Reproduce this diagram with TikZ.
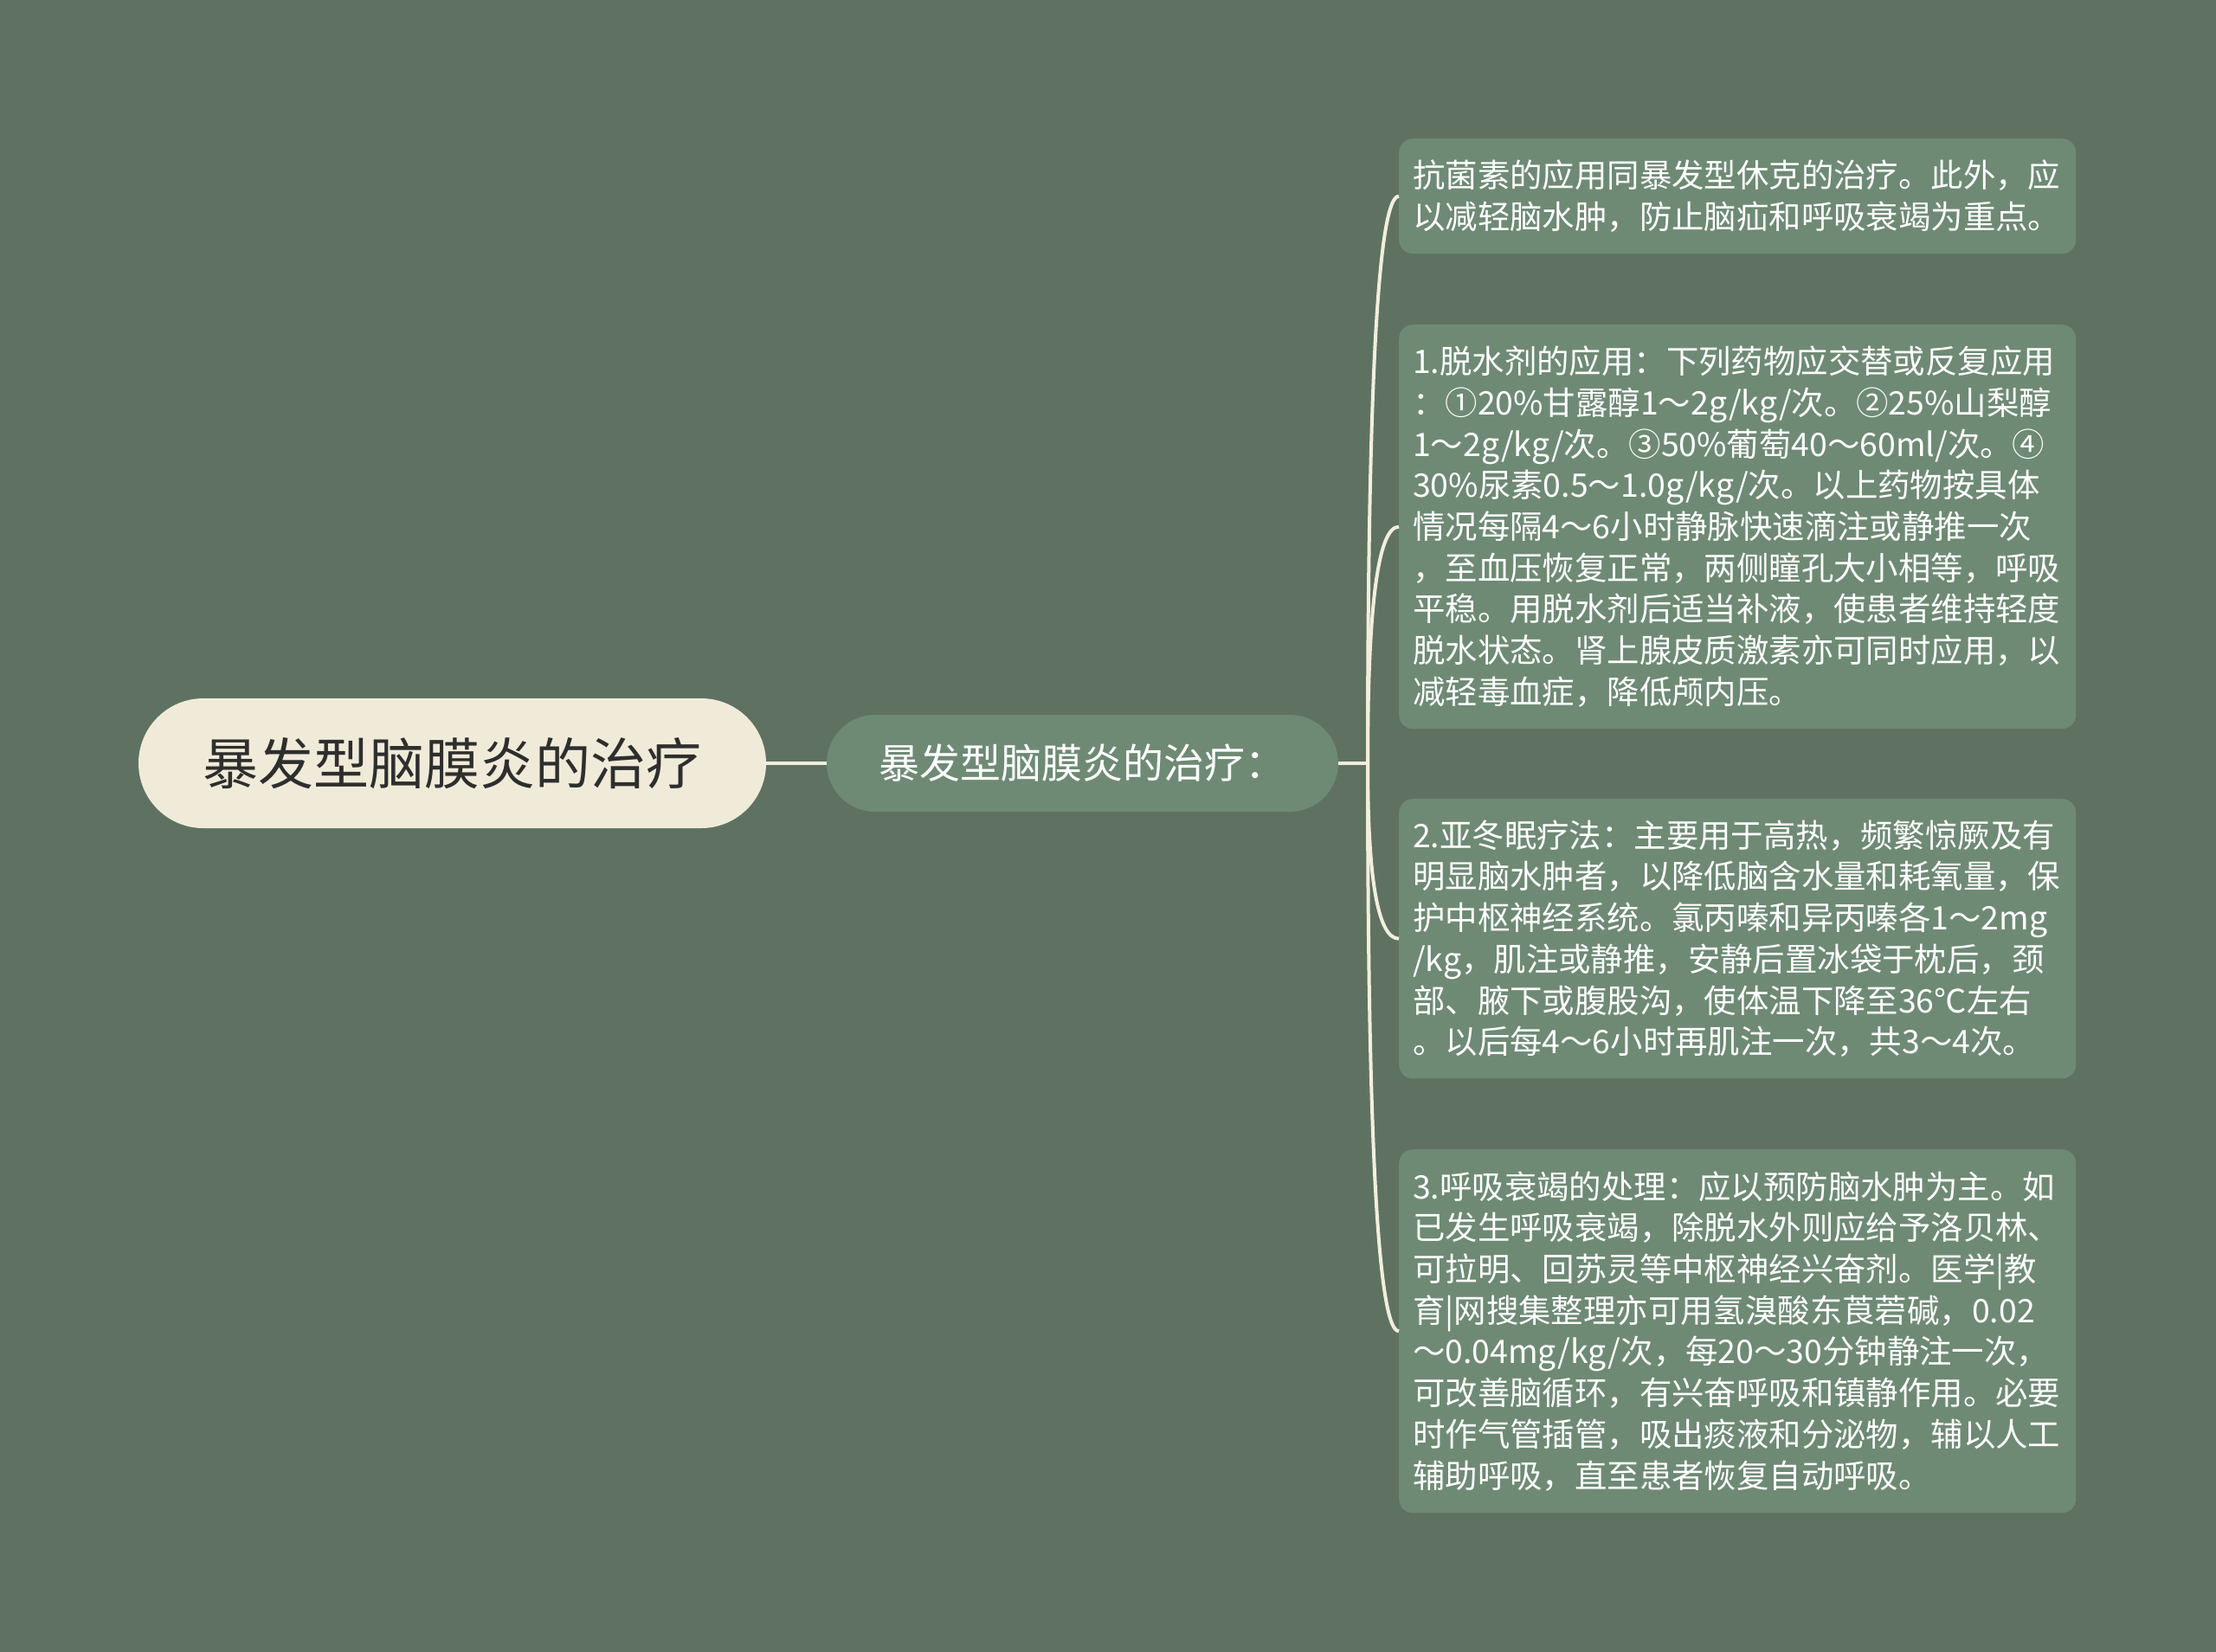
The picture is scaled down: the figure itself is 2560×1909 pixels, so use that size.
\documentclass[tikz,border=0pt]{standalone}
\usepackage{fontspec}
\setmainfont{Noto Sans CJK SC}
\usetikzlibrary{calc}
\definecolor{bgc}{HTML}{5F7262}
\definecolor{leaffill}{HTML}{6E8A74}
\definecolor{rootfill}{HTML}{F0EBD9}
\definecolor{roottext}{HTML}{2E2E2E}
\definecolor{linec}{HTML}{F2EEDD}
\tikzset{
  leafbox/.style={anchor=north west, fill=leaffill, rounded corners=16pt, text=white,
    inner xsep=16pt, inner ysep=0pt, text width=750pt, align=left,
    font={\fontsize{37.4}{47.7}\selectfont}},
  rootbox/.style={fill=rootfill, text=roottext, rounded corners=75pt, minimum width=725pt,
    minimum height=150pt, inner sep=0pt, font={\fontsize{64}{72}\selectfont}},
  childbox/.style={fill=leaffill, text=white, rounded corners=56pt, minimum width=591pt,
    minimum height=112pt, inner sep=0pt, font={\fontsize{47}{56}\selectfont}},
  conn/.style={draw=linec, line width=4pt}
}
\begin{document}
\begin{tikzpicture}[x=1pt,y=-1pt]
\fill[bgc] (0,0) rectangle (2560,1909);
\useasboundingbox (0,0) rectangle (2560,1909);

\node[rootbox] (root) at (522.5,882) {暴发型脑膜炎的治疗};
\node[childbox] (child) at (1250.5,882) {暴发型脑膜炎的治疗：};

\node[leafbox, minimum height=133pt] (l1) at (1616,160) {抗菌素的应用同暴发型休克的治疗。此外，应\\以减轻脑水肿，防止脑疝和呼吸衰竭为重点。};

\node[leafbox, minimum height=467pt] (l2) at (1616,375) {1.脱水剂的应用：下列药物应交替或反复应用\\：①20\%甘露醇1～2g/kg/次。②25\%山梨醇\\1～2g/kg/次。③50\%葡萄40～60ml/次。④\\30\%尿素0.5～1.0g/kg/次。以上药物按具体\\情况每隔4～6小时静脉快速滴注或静推一次\\，至血压恢复正常，两侧瞳孔大小相等，呼吸\\平稳。用脱水剂后适当补液，使患者维持轻度\\脱水状态。肾上腺皮质激素亦可同时应用，以\\减轻毒血症，降低颅内压。};

\node[leafbox, minimum height=323pt] (l3) at (1616,923) {2.亚冬眠疗法：主要用于高热，频繁惊厥及有\\明显脑水肿者，以降低脑含水量和耗氧量，保\\护中枢神经系统。氯丙嗪和异丙嗪各1～2mg\\/kg，肌注或静推，安静后置冰袋于枕后，颈\\部、腋下或腹股沟，使体温下降至36℃左右\\。以后每4～6小时再肌注一次，共3～4次。};

\node[leafbox, minimum height=420pt] (l4) at (1616,1328) {3.呼吸衰竭的处理：应以预防脑水肿为主。如\\已发生呼吸衰竭，除脱水外则应给予洛贝林、\\可拉明、回苏灵等中枢神经兴奋剂。医学|教\\育|网搜集整理亦可用氢溴酸东莨菪碱，0.02\\～0.04mg/kg/次，每20～30分钟静注一次，\\可改善脑循环，有兴奋呼吸和镇静作用。必要\\时作气管插管，吸出痰液和分泌物，辅以人工\\辅助呼吸，直至患者恢复自动呼吸。};

\coordinate (sp) at (1580,882);
\draw[conn] (root.east) -- (child.west);
\draw[conn] (child.east) -- (sp);
\foreach \n in {l1,l2,l3,l4} {
  \draw[conn] (sp) .. controls ($(sp)!0.6667!(sp|-\n.west)$) and ($(\n.west)!0.6667!(sp|-\n.west)$) .. (\n.west);
}
\end{tikzpicture}
\end{document}
